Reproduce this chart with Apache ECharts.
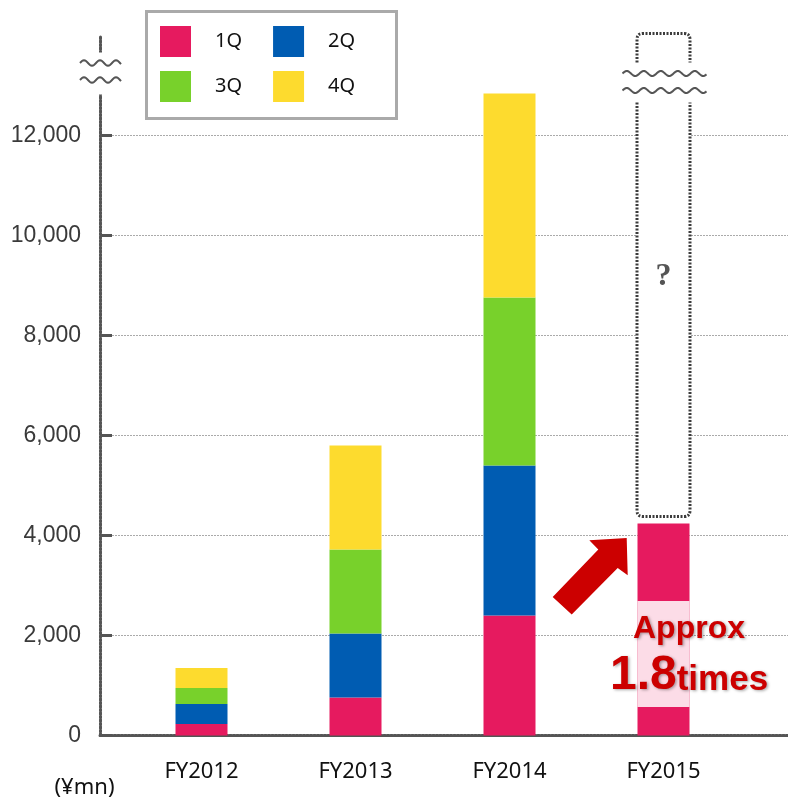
<!DOCTYPE html>
<html>
<head>
<meta charset="utf-8">
<script src="https://cdn.jsdelivr.net/npm/echarts@6/dist/echarts.min.js"></script>
<style>
  html, body { margin: 0; padding: 0; background: #fff; }
  #chart { width: 788px; height: 799px; }
</style>
</head>
<body>
<div id="chart"></div>
<script>
// Quarterly sales by fiscal year (¥mn)
const years = ['FY2012', 'FY2013', 'FY2014', 'FY2015'];
const quarterNames = ['1Q', '2Q', '3Q', '4Q'];
const q1 = [230, 760, 2400, 4240];
const q2 = [400, 1280, 3000, null];
const q3 = [320, 1680, 3360, null];
const q4 = [400, 2080, 4080, null];
const yTicks = [0, 2000, 4000, 6000, 8000, 10000, 12000];
const yMax = 14000;
const unitLabel = '(¥mn)';
const growthWord = 'Approx';
const growthFactor = '1.8';
const growthUnit = 'times';
const unknownMark = '?';

const quarterColors = ['#E61A5F', '#005CB2', '#78D12B', '#FDDB2E'];
const frameColor = '#555';

// wavy "≈" break line
function wave(x0, x1, y, period, amp) {
  const pts = [];
  for (let x = x0; x <= x1 + 0.01; x += 1) {
    pts.push([x, y - amp * Math.sin((x - x0) / period * 2 * Math.PI)]);
  }
  return {
    type: 'polyline',
    shape: { points: pts },
    style: { stroke: '#555', lineWidth: 2, fill: null }
  };
}

const chart = echarts.init(document.getElementById('chart'), null, { renderer: 'canvas' });

const legendCommon = {
  orient: 'horizontal',
  left: 160,
  itemWidth: 31,
  itemHeight: 31,
  itemGap: 31,
  icon: 'rect',
  padding: 0,
  selectedMode: false,
  textStyle: { fontFamily: 'Noto Sans', fontSize: 20, color: '#111', padding: [0, 0, 0, 19] }
};

const quarterData = [q1, q2, q3, q4];

const barSeries = quarterNames.map((name, i) => ({
  name: name,
  type: 'bar',
  xAxisIndex: 1,
  yAxisIndex: 1,
  stack: 'total',
  barWidth: 52,
  data: quarterData[i],
  itemStyle: { color: quarterColors[i] },
  z: 2
}));

// break mark on the value axis
const axisBreakSeries = {
  type: 'custom',
  xAxisIndex: 0,
  yAxisIndex: 0,
  clip: false,
  silent: true,
  z: 4,
  data: [[0, yMax]],
  renderItem: function (params, api) {
    const p = api.coord([api.value(0), api.value(1)]);
    return {
      type: 'group',
      children: [
        { type: 'rect', shape: { x: p[0] - 12, y: p[1] + 17, width: 24, height: 42 }, style: { fill: '#fff' } },
        wave(p[0] - 20, p[0] + 21, p[1] + 27.5, 16, 2.8),
        wave(p[0] - 20, p[0] + 21, p[1] + 44.5, 16, 2.8)
      ]
    };
  }
};

// FY2015: open-ended dashed column, arrow and growth callout
const forecastSeries = {
  type: 'custom',
  xAxisIndex: 1,
  yAxisIndex: 1,
  clip: false,
  silent: true,
  z: 5,
  data: [[3, q1[3]]],
  renderItem: function (params, api) {
    const top = api.coord([api.value(0), api.value(1)]);
    const base = api.coord([api.value(0), 0]);
    const ceil = api.coord([api.value(0), yMax]);
    const cx = top[0];
    const L = cx - 26.5, R = cx + 26.5;
    const cTop = ceil[1] - 2;
    const boxBottom = top[1] - 7;
    const breakTop = ceil[1] + 27;
    const breakBottom = ceil[1] + 67;
    const r = 6;
    const dash = { stroke: '#3c3c3c', lineWidth: 3, lineDash: [2, 1.5], fill: null };
    const upper = 'M' + L + ' ' + breakTop + ' L' + L + ' ' + (cTop + r) +
      ' Q' + L + ' ' + cTop + ' ' + (L + r) + ' ' + cTop +
      ' L' + (R - r) + ' ' + cTop + ' Q' + R + ' ' + cTop + ' ' + R + ' ' + (cTop + r) +
      ' L' + R + ' ' + breakTop;
    const lower = 'M' + L + ' ' + breakBottom + ' L' + L + ' ' + (boxBottom - r) +
      ' Q' + L + ' ' + boxBottom + ' ' + (L + r) + ' ' + boxBottom +
      ' L' + (R - r) + ' ' + boxBottom + ' Q' + R + ' ' + boxBottom + ' ' + R + ' ' + (boxBottom - r) +
      ' L' + R + ' ' + breakBottom;

    const t = [top[0], top[1]];
    const arrow = [
      [t[0] - 36.8, t[1] + 14.4],
      [t[0] - 35.8, t[1] + 51.7],
      [t[0] - 45.8, t[1] + 44.4],
      [t[0] - 91.8, t[1] + 91.0],
      [t[0] - 110.8, t[1] + 73.4],
      [t[0] - 65.2, t[1] + 26.0],
      [t[0] - 74.2, t[1] + 16.7]
    ];

    const shadow = { textShadowColor: 'rgba(0,0,0,0.35)', textShadowBlur: 3, textShadowOffsetX: 1.5, textShadowOffsetY: 1.5 };

    return {
      type: 'group',
      children: [
        { type: 'rect', shape: { x: L, y: cTop, width: R - L, height: boxBottom - cTop }, style: { fill: '#fff' } },
        { type: 'rect', shape: { x: cx - 42, y: breakTop + 1, width: 86, height: breakBottom - breakTop - 2 }, style: { fill: '#fff' } },
        { type: 'path', shape: { pathData: upper }, style: dash },
        { type: 'path', shape: { pathData: lower }, style: dash },
        wave(cx - 41, cx + 43, ceil[1] + 38, 17, 2.5),
        wave(cx - 41, cx + 43, ceil[1] + 55, 17, 2.5),
        {
          type: 'text',
          style: {
            text: unknownMark, x: cx, y: breakBottom + 0.42 * (boxBottom - breakBottom),
            fill: '#555', font: 'bold 32px "Liberation Serif"', align: 'center', verticalAlign: 'middle'
          }
        },
        { type: 'rect', shape: { x: cx - 26, y: base[1] - 134.5, width: 52, height: 106 }, style: { fill: 'rgba(255,255,255,0.85)' } },
        { type: 'polygon', shape: { points: arrow }, style: { fill: '#CC0000' } },
        {
          type: 'text',
          style: Object.assign({
            text: growthWord, x: cx + 25.5, y: base[1] - 106.6,
            fill: '#CC0000', font: 'bold 32px "Liberation Sans"', align: 'center', verticalAlign: 'middle'
          }, shadow)
        },
        {
          type: 'text',
          style: Object.assign({
            text: growthFactor, x: cx + 13.2, y: base[1] - 60.1,
            fill: '#CC0000', font: 'bold 48px "Liberation Sans"', align: 'right', verticalAlign: 'middle'
          }, shadow)
        },
        {
          type: 'text',
          style: Object.assign({
            text: growthUnit, x: cx + 13.2, y: base[1] - 55.6,
            fill: '#CC0000', font: 'bold 35px "Liberation Sans"', align: 'left', verticalAlign: 'middle'
          }, shadow)
        }
      ]
    };
  }
};

const option = {
  animation: false,
  backgroundColor: '#fff',
  grid: [
    { left: 100, right: 0, top: 35.5, bottom: 63.5 },
    { left: 124.5, right: 47.5, top: 35.5, bottom: 63.5 }
  ],
  legend: [
    Object.assign({ top: 26, data: quarterNames.slice(0, 2) }, legendCommon),
    Object.assign({ top: 71, data: quarterNames.slice(2, 4) }, legendCommon)
  ],
  graphic: [
    {
      type: 'rect', left: 145, top: 10, z: -1,
      shape: { width: 250, height: 107 },
      style: { fill: '#fff', stroke: '#aaa', lineWidth: 3 }
    }
  ],
  xAxis: [
    {
      type: 'value', gridIndex: 0, min: 0, max: 1,
      axisLine: { show: true, onZero: false, lineStyle: { color: frameColor, width: 3, type: [2, 1.5] } },
      axisTick: { show: false }, axisLabel: { show: false }, splitLine: { show: false }
    },
    {
      type: 'category', gridIndex: 1, data: years,
      axisLine: { show: false }, axisTick: { show: false },
      axisLabel: { fontFamily: 'Noto Sans', fontSize: 22, color: '#111', margin: 25 }
    }
  ],
  yAxis: [
    {
      type: 'value', gridIndex: 0, min: 0, max: yMax, interval: 2000,
      name: unitLabel, nameLocation: 'start', nameGap: 41,
      nameTextStyle: { fontFamily: 'Noto Sans', fontSize: 22, color: '#111', padding: [0, 31, 0, 0] },
      axisLine: { show: true, lineStyle: { color: frameColor, width: 3, type: [2, 1.5] } },
      axisTick: { show: true, inside: true, length: 12, customValues: yTicks, lineStyle: { color: '#555', width: 3 } },
      axisLabel: {
        customValues: yTicks, margin: 19,
        formatter: v => v.toLocaleString('en-US'),
        fontFamily: 'Liberation Sans', fontSize: 23, color: '#3a3a3a'
      },
      splitLine: { show: true, lineStyle: { color: '#aaa', width: 1, type: [2, 1] } }
    },
    { type: 'value', gridIndex: 1, min: 0, max: yMax, show: false }
  ],
  series: barSeries.concat([axisBreakSeries, forecastSeries])
};

chart.setOption(option);
</script>
</body>
</html>
